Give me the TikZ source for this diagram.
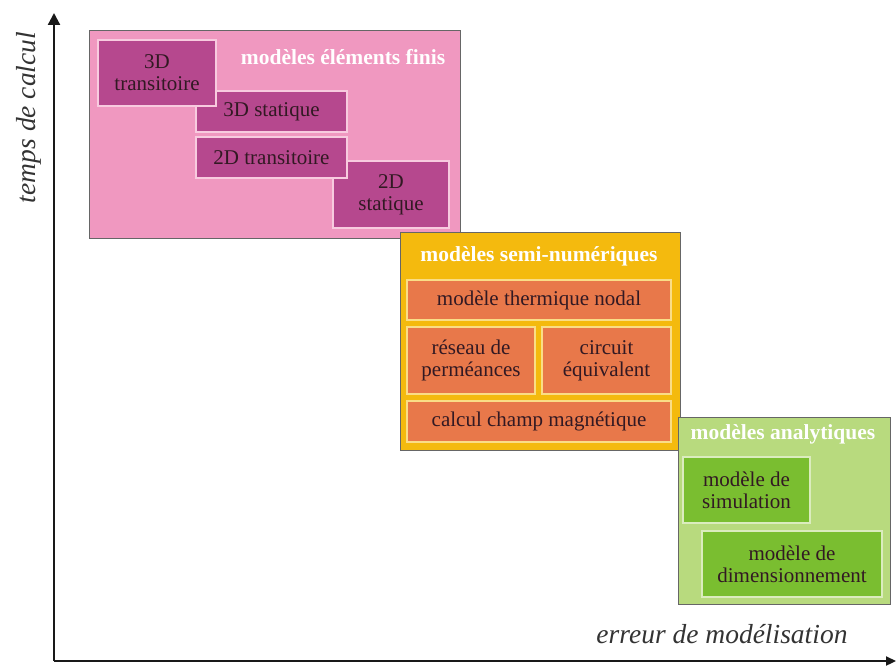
\documentclass[tikz,border=0pt]{standalone}
\usepackage{fontspec}
\setmainfont{Liberation Serif}
\usetikzlibrary{arrows.meta}
\definecolor{femouter}{RGB}{240, 152, 192}
\definecolor{feminner}{RGB}{182, 72, 142}
\definecolor{seminouter}{RGB}{244, 186, 14}
\definecolor{seminner}{RGB}{232, 120, 74}
\definecolor{anaouter}{RGB}{184, 218, 126}
\definecolor{anainner}{RGB}{122, 190, 48}
\definecolor{boxtext}{RGB}{50, 25, 35}

\begin{document}
\begin{tikzpicture}[
                x=1pt, y=-1pt,
                groupbox/.style={draw=gray!80!black, line width=0.8pt, inner sep=0pt},
                modelbox/.style={line width=1.2pt, inner sep=0pt, align=center,
                    text=boxtext, font=\fontsize{21}{22}\selectfont},
                grouptitle/.style={text=white, font=\fontsize{21.5}{23}\selectfont\bfseries},
                axislabel/.style={font=\fontsize{27.5}{29}\selectfont\itshape, text=black!80}
            ]
            \useasboundingbox (0, 0) rectangle (896, 666);

            % axes
            \coordinate (origin) at (54, 661);
            \coordinate (ytip) at (54, 13);
            \coordinate (xtip) at (896, 661);
            \draw[line width=2.2pt, black!90, -{Triangle[length=12pt, width=12pt]}] (origin) -- (ytip);
            \draw[line width=2.2pt, black!90, -{Triangle[length=10pt, width=9pt]}] (origin) -- (xtip);
            \node[axislabel, rotate=90] (ylabel) at (29, 117.5) {temps de calcul};
            \node[axislabel] (xlabel) at (722, 634) {erreur de modélisation};

            % elements finis
            \node[groupbox, fill=femouter, minimum width=371pt, minimum height=208pt] (fem) at (274.5, 134) {};
            \node[grouptitle] (femtitle) at (343, 57) {modèles éléments finis};
            \node[modelbox, fill=feminner, draw=femouter!50!white, minimum width=151pt, minimum height=41pt] (stat3d) at (271.5, 111.5) {3D statique};
            \node[modelbox, fill=feminner, draw=femouter!50!white, minimum width=118pt, minimum height=66pt] (trans3d) at (157, 73) {3D\\transitoire};
            \node[modelbox, fill=feminner, draw=femouter!50!white, minimum width=116pt, minimum height=67pt] (stat2d) at (391, 194.5) {2D\\statique};
            \node[modelbox, fill=feminner, draw=femouter!50!white, minimum width=151pt, minimum height=41pt] (trans2d) at (271.5, 157.5) {2D transitoire};

            % semi-numeriques
            \node[groupbox, fill=seminouter, minimum width=280pt, minimum height=218pt] (semi) at (540, 341) {};
            \node[grouptitle] (semititle) at (539, 256) {modèles semi-numériques};
            \node[modelbox, fill=seminner, draw=seminouter!50!white, minimum width=264pt, minimum height=40pt] (nodal) at (539, 300) {modèle thermique nodal};
            \node[modelbox, fill=seminner, draw=seminouter!50!white, minimum width=128pt, minimum height=67pt] (reseau) at (471, 360.5) {réseau de\\perméances};
            \node[modelbox, fill=seminner, draw=seminouter!50!white, minimum width=129pt, minimum height=67pt] (circuit) at (606.5, 360.5) {circuit\\équivalent};
            \node[modelbox, fill=seminner, draw=seminouter!50!white, minimum width=264pt, minimum height=41pt] (champ) at (539, 421.5) {calcul champ magnétique};

            % analytiques
            \node[groupbox, fill=anaouter, minimum width=212pt, minimum height=187pt] (ana) at (784, 510.5) {};
            \node[grouptitle] (anatitle) at (783, 434) {modèles analytiques};
            \node[modelbox, fill=anainner, draw=anaouter!50!white, minimum width=127pt, minimum height=66pt] (simu) at (746.5, 490) {modèle de\\simulation};
            \node[modelbox, fill=anainner, draw=anaouter!50!white, minimum width=180pt, minimum height=66pt] (dimens) at (792, 564) {modèle de\\dimensionnement};

            \end{tikzpicture}
\end{document}
